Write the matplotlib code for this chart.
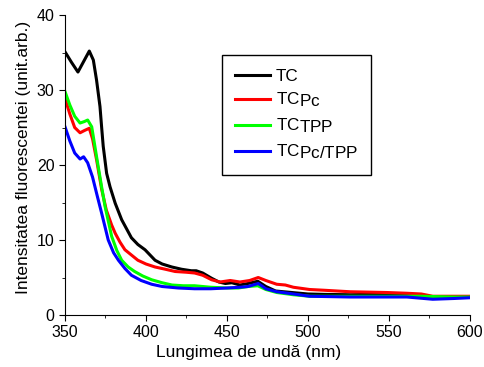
import matplotlib
matplotlib.use("Agg")
import matplotlib.pyplot as plt
import matplotlib._mathtext as mathtext_internal
from matplotlib.ticker import MultipleLocator

plt.rcParams['font.family'] = ['Liberation Sans', 'DejaVu Sans']
plt.rcParams['mathtext.fontset'] = 'custom'
plt.rcParams['mathtext.rm'] = 'Liberation Sans'
plt.rcParams['mathtext.it'] = 'Liberation Sans'
# indicii din legenda au aceeasi marime ca textul
mathtext_internal.SHRINK_FACTOR = 1.0

# date
x_tc = [350, 354, 358, 362, 365, 367.5, 369.5, 371.6, 372.6, 373.6, 375.7, 377.8, 381, 385, 391, 395,
        399.4, 405.6, 410, 416, 422, 428, 431, 435, 440.5, 445, 449, 453, 458, 463, 469, 474, 480,
        490, 500, 510, 526, 548, 560, 577, 590, 600]
y_tc = [35.1, 33.7, 32.4, 34.0, 35.2, 34.0, 31.3, 27.8, 25.1, 22.5, 18.9, 17.1, 14.9, 12.7, 10.3, 9.4,
        8.7, 7.3, 6.8, 6.4, 6.1, 5.9, 5.9, 5.6, 4.9, 4.4, 4.2, 4.3, 4.0, 4.2, 4.5, 3.8, 3.2,
        3.0, 2.8, 2.75, 2.7, 2.8, 2.7, 2.4, 2.4, 2.4]

x_pc = [350, 353, 356, 359.3, 362, 365, 367, 369.5, 372.6, 375.5, 378.8, 381, 384, 387, 391, 395,
        400, 405.6, 412, 418, 425, 430, 435, 440.5, 445.7, 452, 458, 464, 469.3, 474, 480.7, 486,
        491, 501, 510, 526, 548.6, 561, 570, 577, 590, 600]
y_pc = [28.9, 26.8, 25.0, 24.3, 24.6, 24.9, 23.5, 20.7, 16.8, 14.0, 12.0, 10.9, 9.7, 8.7, 8.0, 7.3,
        6.8, 6.4, 6.1, 5.8, 5.7, 5.6, 5.3, 4.7, 4.4, 4.6, 4.4, 4.6, 5.0, 4.6, 4.1, 4.0,
        3.7, 3.4, 3.3, 3.1, 3.0, 2.9, 2.8, 2.5, 2.5, 2.5]

x_tpp = [350, 353, 356, 359.3, 362, 364, 366.5, 369.5, 372.6, 374.7, 378.8, 382, 385, 389, 393, 398,
         403.5, 410, 416, 423, 430, 440, 450, 457, 463, 469, 474, 480.7, 491, 501, 520, 548, 570,
         590, 600]
y_tpp = [29.8, 28.0, 26.5, 25.6, 25.8, 26.0, 25.1, 21.1, 17.1, 14.5, 10.5, 8.6, 7.3, 6.4, 5.8, 5.2,
         4.7, 4.3, 4.0, 3.9, 3.9, 3.7, 3.6, 3.6, 3.8, 3.9, 3.4, 3.0, 2.7, 2.5, 2.5, 2.5, 2.5,
         2.4, 2.4]

x_both = [350, 353, 356, 359.3, 361.5, 364, 367, 370, 372.6, 376.7, 380, 383, 387, 391, 397, 403.5,
          410, 420, 430, 440, 450, 458, 463, 469.3, 474, 480.7, 491, 501, 526, 548, 561, 577, 590, 600]
y_both = [25.1, 23.2, 21.6, 20.8, 21.1, 20.3, 18.4, 15.8, 13.6, 10.0, 8.3, 7.3, 6.2, 5.3, 4.6, 4.1,
          3.8, 3.6, 3.5, 3.5, 3.6, 3.7, 3.8, 4.2, 3.5, 3.1, 2.8, 2.5, 2.4, 2.4, 2.4, 2.1, 2.2, 2.3]

fig = plt.figure(figsize=(4.85, 3.67), dpi=100)
ax = fig.add_axes([0.134, 0.1417, 0.835, 0.8173])

ax.plot(x_tc, y_tc, color='black', lw=2.2, label='TC')
ax.plot(x_pc, y_pc, color='#ff0000', lw=2.2, label='TC$_{\\mathrm{Pc}}$')
ax.plot(x_tpp, y_tpp, color='#00ff00', lw=2.2, label='TC$_{\\mathrm{TPP}}$')
ax.plot(x_both, y_both, color='#0000ff', lw=2.2, label='TC$_{\\mathrm{Pc/TPP}}$')

ax.set_xlim(350, 600)
ax.set_ylim(0, 40)
ax.xaxis.set_major_locator(MultipleLocator(50))
ax.xaxis.set_minor_locator(MultipleLocator(25))
ax.yaxis.set_major_locator(MultipleLocator(10))
ax.yaxis.set_minor_locator(MultipleLocator(5))
ax.spines['top'].set_visible(False)
ax.spines['right'].set_visible(False)
ax.tick_params(which='major', direction='out', length=4, labelsize=11.5)
ax.tick_params(which='minor', direction='out', length=2.5)

ax.set_xlabel('Lungimea de undă (nm)', fontsize=12.5, labelpad=3, x=0.454)
ax.set_ylabel('Intensitatea fluorescentei (unit.arb.)', fontsize=12.5, labelpad=4, y=0.525)

leg = ax.legend(loc='upper left', bbox_to_anchor=(0.387, 0.867), borderaxespad=0,
                fontsize=12.3, fancybox=False, edgecolor='black', framealpha=1,
                handlelength=2.0, handletextpad=0.35, borderpad=0.8, labelspacing=0.42)
leg.get_frame().set_linewidth(1)

fig.savefig('out.png', dpi=100)
